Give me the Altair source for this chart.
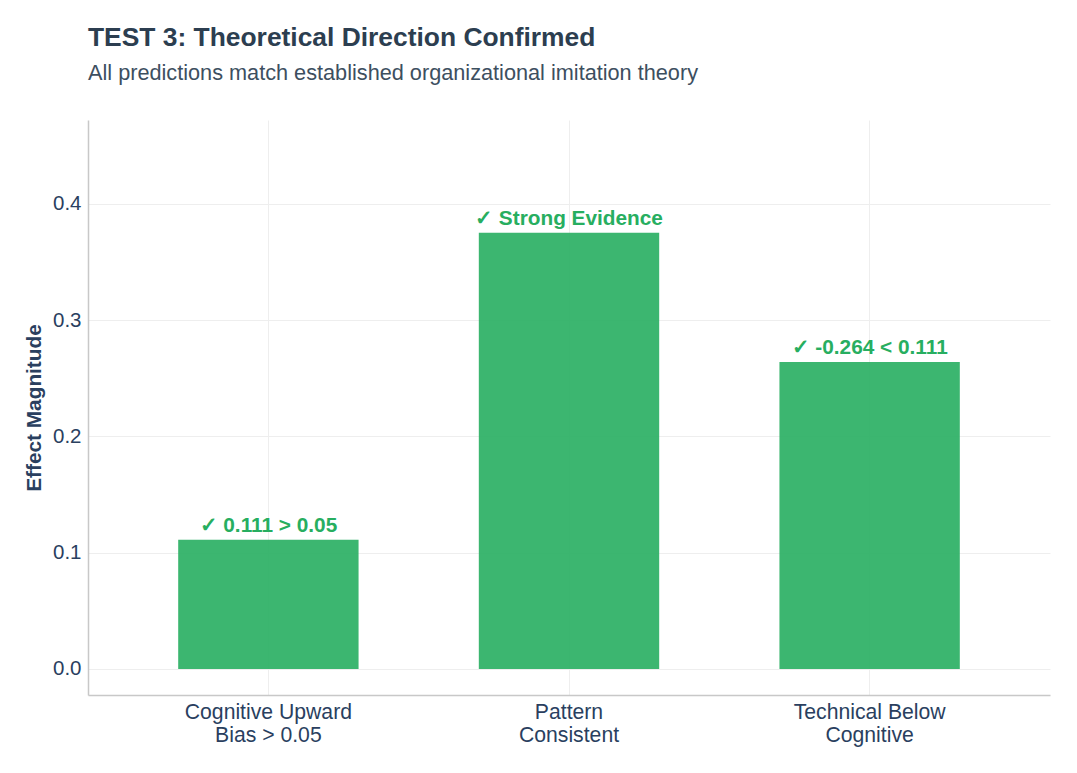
import altair as alt
import pandas as pd

categories = ["Cognitive Upward\nBias > 0.05", "Pattern\nConsistent", "Technical Below\nCognitive"]
values = [0.111, 0.375, 0.264]
labels = ["✓ 0.111 > 0.05", "✓ Strong Evidence", "✓ -0.264 < 0.111"]

df = pd.DataFrame({"cat": categories, "val": values, "label": labels})

FONT = "Liberation Sans"
DARK = "#2a3f5f"
GREEN = "#27ae60"

x = alt.X("cat:N", sort=categories, title=None,
          scale=alt.Scale(paddingInner=0.4, paddingOuter=0.3),
          axis=alt.Axis(labelExpr="split(datum.label, '\\n')", labelAngle=0,
                        labelFontSize=21.2, labelColor=DARK, labelFont=FONT,
                        labelPadding=6, ticks=False, bandPosition=0.5,
                        grid=True, gridColor="#eeeeee", gridWidth=1,
                        domainColor="#c8c8c8", domainWidth=1.5, labelLineHeight=23))
y = alt.Y("val:Q", title="Effect Magnitude",
          scale=alt.Scale(domain=[-0.0224, 0.472], nice=False, zero=False),
          axis=alt.Axis(values=[0, 0.1, 0.2, 0.3, 0.4], format=".1f",
                        labelFontSize=20.5, labelColor=DARK, labelFont=FONT,
                        labelPadding=7, ticks=False, grid=True,
                        gridColor="#eeeeee", gridWidth=1,
                        domainColor="#c8c8c8", domainWidth=1.5,
                        titleFontSize=20.8, titleFont=FONT, titleColor=DARK,
                        titleFontWeight="bold", titlePadding=8))

bars = alt.Chart(df).mark_bar(color=GREEN, opacity=0.9).encode(
    x=x, y=y, y2=alt.Y2(datum=0))
text = alt.Chart(df).mark_text(color=GREEN, fontSize=20.8, fontWeight="bold",
                               font=FONT, baseline="alphabetic", dy=-8).encode(
    x=alt.X("cat:N", sort=categories), y="val:Q", text="label:N")

chart = (bars + text).properties(
    width=962, height=575,
    background="white",
    autosize=alt.AutoSizeParams(type="none"),
    padding={"left": 80, "top": 112, "right": 19, "bottom": 70},
    title=alt.Title("TEST 3: Theoretical Direction Confirmed",
                    subtitle="All predictions match established organizational imitation theory",
                    anchor="start", frame="group", fontSize=26.4, font=FONT,
                    fontWeight="bold", color="#2c3e50",
                    subtitleFont=FONT, subtitleFontSize=21.7, subtitleColor="#3d4f5f",
                    subtitlePadding=12, offset=35)
).configure_view(stroke=None)

chart.save("out.html", embed_options={"renderer": "svg", "actions": False})
